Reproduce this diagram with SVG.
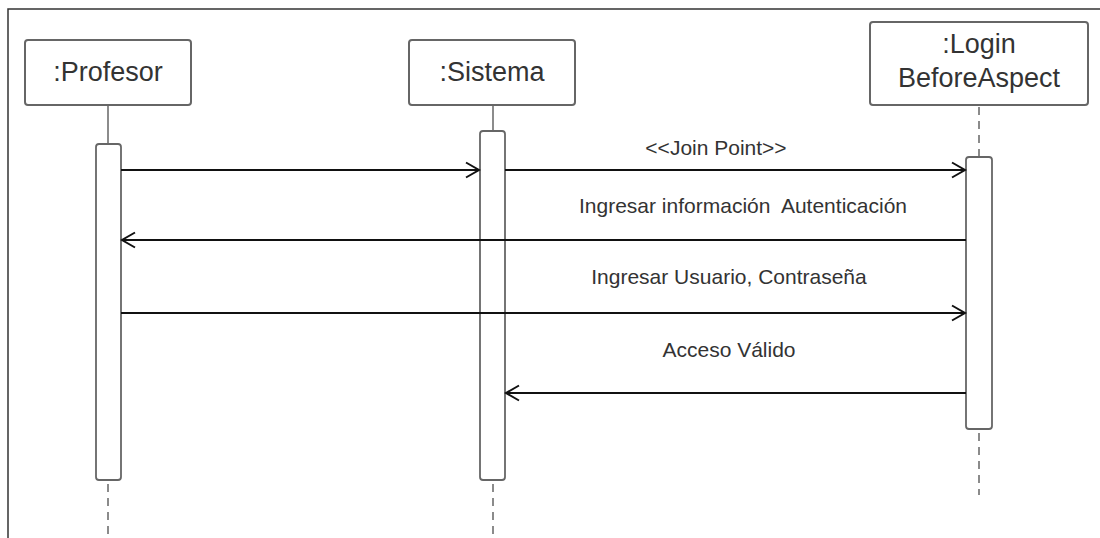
<svg xmlns="http://www.w3.org/2000/svg" width="1100" height="538" viewBox="0 0 1100 538">
<style>
.head{fill:#fff;stroke:#666;stroke-width:2}
.act{fill:#fff;stroke:#666;stroke-width:1.8}
.life{stroke:#666;stroke-width:1.5;fill:none}
.dash{stroke:#666;stroke-width:1.5;stroke-dasharray:8 6;fill:none}
.name{font-family:"Liberation Sans",Arial,sans-serif;font-size:27px;fill:#333;text-anchor:middle}
.lbl{font-family:"Liberation Sans",Arial,sans-serif;font-size:21px;fill:#333;text-anchor:middle}
.msg{stroke:#111;stroke-width:2;fill:none}
</style>
<defs>
<marker id="open" viewBox="0 0 16 18" refX="14" refY="9" markerWidth="16" markerHeight="18" markerUnits="userSpaceOnUse" orient="auto">
<path d="M1,1.5 L14,9 L1,16.5" fill="none" stroke="#111" stroke-width="2"/>
</marker>
</defs>
<rect x="0" y="0" width="1100" height="538" fill="#fff"/>
<path d="M8,538 V9 H1100" fill="none" stroke="#333" stroke-width="1.5"/>

<g id="profesor">
<line class="life" x1="108" y1="105" x2="108" y2="144"/>
<line class="dash" x1="108" y1="484" x2="108" y2="536"/>
<rect class="head" x="25" y="40" width="166" height="65" rx="3"/>
<text class="name" x="108" y="81">:Profesor</text>
<rect class="act" x="96" y="144" width="25" height="336" rx="3"/>
</g>

<g id="sistema">
<line class="life" x1="493" y1="105" x2="493" y2="131"/>
<line class="dash" x1="493" y1="484" x2="493" y2="536"/>
<rect class="head" x="409" y="40" width="166" height="65" rx="3"/>
<text class="name" x="492" y="81">:Sistema</text>
<rect class="act" x="480" y="131" width="25" height="349" rx="3"/>
</g>

<g id="login">
<line class="dash" x1="979" y1="107" x2="979" y2="157"/>
<line class="dash" x1="979" y1="433" x2="979" y2="495"/>
<rect class="head" x="870" y="22" width="218" height="83" rx="3"/>
<text class="name" x="979" y="53">:Login</text>
<text class="name" x="979" y="87">BeforeAspect</text>
<rect class="act" x="966" y="157" width="26" height="272" rx="3"/>
</g>

<g id="connectors">
<line class="msg" x1="121" y1="170" x2="479" y2="170" marker-end="url(#open)"/>
<line class="msg" x1="505" y1="170" x2="965" y2="170" marker-end="url(#open)"/>
<text class="lbl" x="716" y="155">&lt;&lt;Join Point&gt;&gt;</text>
<line class="msg" x1="966" y1="240" x2="122" y2="240" marker-end="url(#open)"/>
<text class="lbl" x="743" y="213" xml:space="preserve">Ingresar información  Autenticación</text>
<line class="msg" x1="121" y1="313" x2="965" y2="313" marker-end="url(#open)"/>
<text class="lbl" x="729" y="284">Ingresar Usuario, Contraseña</text>
<line class="msg" x1="966" y1="393" x2="506" y2="393" marker-end="url(#open)"/>
<text class="lbl" x="729" y="357">Acceso Válido</text>
</g>
</svg>
